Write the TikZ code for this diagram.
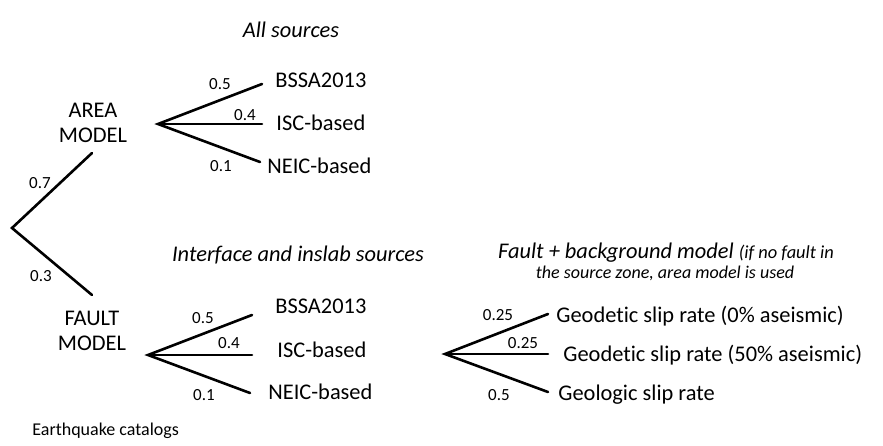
\documentclass[tikz,border=0pt]{standalone}
\usepackage{fontspec}
\setmainfont{Carlito}[Ligatures=NoCommon]
\begin{document}
\begin{tikzpicture}[x=0.5pt,y=-0.5pt,
  branch/.style={line width=1.3pt, line cap=round},
  txt/.style={inner sep=0pt, font=\fontsize{11.2}{12.2}\selectfont},
  leaf/.style={txt, anchor=base west},
  title/.style={inner sep=0pt, anchor=base, font=\fontsize{11.2}{12.2}\selectfont\itshape},
  note/.style={inner sep=0pt, anchor=base, font=\fontsize{9}{10}\selectfont\itshape},
  weight/.style={inner sep=0pt, font=\fontsize{8.5}{9}\selectfont},
  model/.style={txt, align=center, anchor=base}]
\useasboundingbox (0,0) rectangle (883,445);

% titles
\node[title] (tall) at (291,37) {All sources};
\node[title] (tint) at (298,261) {Interface and inslab sources};
\node[title] (tfb) at (666,258) {Fault + background model {\fontsize{9.2}{10}\selectfont(if no fault in}};
\node[note] (tfbn) at (665,278) {the source zone, area model is used};

% root split into the two models
\coordinate (root) at (12,228);
\coordinate (aup) at (92,153);
\coordinate (fdn) at (92,295);
\draw[branch] (aup) -- (root) -- (fdn);
\node[weight] (w07) at (40,183) {0.7};
\node[weight] (w03) at (41,276) {0.3};

% the anchor sits on the baseline of the second line
\node[model] (area) at (93,142) {AREA\\MODEL};
\node[model] (fault) at (92,350) {FAULT\\MODEL};

% area model branches
\coordinate (af) at (158,124);
\coordinate (a1) at (262,84);
\coordinate (a2) at (262,124);
\coordinate (a3) at (260,162);
\draw[branch] (a1) -- (af) -- (a3);
\draw[branch] (af) -- (a2);
\node[leaf] (abssa) at (275,87) {BSSA2013};
\node[leaf] (aisc) at (276,130) {ISC-based};
\node[leaf] (aneic) at (267,173) {NEIC-based};
\node[weight] (wa1) at (220,84) {0.5};
\node[weight] (wa2) at (245,115) {0.4};
\node[weight] (wa3) at (221,166) {0.1};

% fault model branches
\coordinate (ff) at (148,355);
\coordinate (f1) at (252,315);
\coordinate (f2) at (252,355);
\coordinate (f3) at (250,393);
\draw[branch] (f1) -- (ff) -- (f3);
\draw[branch] (ff) -- (f2);
\node[leaf] (fbssa) at (275,313) {BSSA2013};
\node[leaf] (fisc) at (277,357) {ISC-based};
\node[leaf] (fneic) at (268,399) {NEIC-based};
\node[weight] (wf1) at (203,318) {0.5};
\node[weight] (wf2) at (229,343) {0.4};
\node[weight] (wf3) at (204,395) {0.1};

% slip rate branches
\coordinate (sf) at (445,354);
\coordinate (s1) at (548,314);
\coordinate (s2) at (548,354);
\coordinate (s3) at (548,392);
\draw[branch] (s1) -- (sf) -- (s3);
\draw[branch] (sf) -- (s2);
\node[leaf] (sgeo0) at (556,322) {Geodetic slip rate (0\% aseismic)};
\node[leaf] (sgeo50) at (563,361) {Geodetic slip rate (50\% aseismic)};
\node[leaf] (sgeol) at (558,400) {Geologic slip rate};
\node[weight] (ws1) at (498,315) {0.25};
\node[weight] (ws2) at (523,343) {0.25};
\node[weight] (ws3) at (499,395) {0.5};

\node[inner sep=0pt, anchor=base west, font=\fontsize{9}{10}\selectfont] (cat) at (32,435) {Earthquake catalogs};
\end{tikzpicture}
\end{document}
